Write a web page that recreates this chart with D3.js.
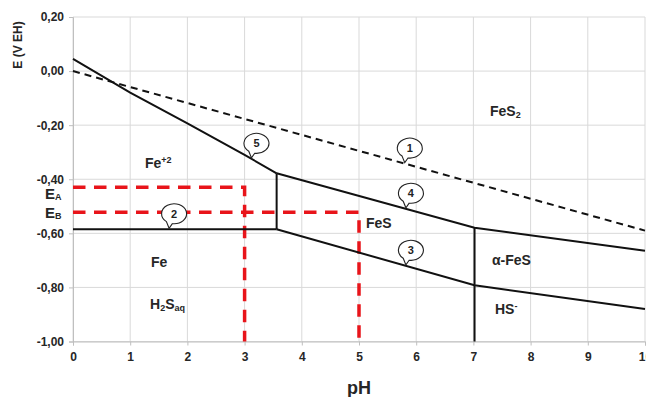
<!DOCTYPE html>
<html>
<head>
<meta charset="utf-8">
<script src="https://cdn.jsdelivr.net/npm/d3@7"></script>
<style>
  html, body { margin: 0; padding: 0; background: #fff; }
  svg { display: block; font-family: "Liberation Sans", Arial, sans-serif; }
</style>
</head>
<body>
<svg id="chart" width="646" height="397"></svg>
<script>
// Eh–pH diagram, Fe–S–H2O system
const phTicks = [0, 1, 2, 3, 4, 5, 6, 7, 8, 9, 10];
const eTicks = [-1.0, -0.8, -0.6, -0.4, -0.2, 0.0, 0.2];

// boundary lines as [pH, E] pairs
const line1 = [[0, 0.0], [10, -0.59]];                          // dashed, FeS2 upper limit
const line2 = [[0, -0.585], [3.56, -0.585]];                    // Fe / Fe+2
const line3 = [[3.56, -0.585], [7.02, -0.792], [10, -0.88]];    // Fe / FeS
const line4 = [[3.56, -0.378], [7.02, -0.579], [10, -0.664]];   // FeS / FeS2
const line5 = [[0, 0.045], [1, -0.08], [2, -0.193], [3, -0.31], [3.56, -0.378]]; // Fe+2 / FeS2
const wallFeS = [[3.56, -0.378], [3.56, -0.585]];
const wallHS = [[7.02, -0.579], [7.02, -1.0]];

// reference potentials
const eA = -0.43, pHA = 3;
const eB = -0.522, pHB = 5;

// numbered callouts: label, boundary, pH where the pointer touches
const calloutLabels = ["1", "2", "3", "4", "5"];
const calloutLines = [line1, line2, line3, line4, line5];
const calloutPH = [5.8, 1.68, 5.82, 5.82, 3.12];

const svg = d3.select("#chart");
const m = {left: 73, right: 645, top: 17, bottom: 341.5};

const x = d3.scaleLinear().domain([0, 10]).range([m.left, m.right]);
const y = d3.scaleLinear().domain([-1, 0.2]).range([m.bottom, m.top]);

const loc = d3.formatLocale({decimal: ",", thousands: ".", grouping: [3], currency: ["", ""], minus: "-"});
const fmt = loc.format(".2f");

// grid
const grid = svg.append("g").attr("stroke", "#d9d9d9").attr("stroke-width", 1);
grid.selectAll("line.v").data(phTicks).join("line").attr("class", "v")
  .attr("x1", d => x(d)).attr("x2", d => x(d))
  .attr("y1", m.top).attr("y2", m.bottom);
grid.selectAll("line.h").data(eTicks).join("line").attr("class", "h")
  .attr("x1", m.left).attr("x2", m.right)
  .attr("y1", d => y(d)).attr("y2", d => y(d));

// axes
const yAxis = svg.append("g").attr("transform", `translate(${m.left},0)`)
  .call(d3.axisLeft(y).tickValues(eTicks).tickFormat(fmt).tickSize(4).tickPadding(5));
const xAxis = svg.append("g").attr("transform", `translate(0,${m.bottom})`)
  .call(d3.axisBottom(x).tickValues(phTicks).tickFormat(d3.format("d")).tickSize(4).tickPadding(7));
[yAxis, xAxis].forEach(a => {
  a.select(".domain").attr("stroke", "#bfbfbf");
  a.selectAll(".tick line").attr("stroke", "#bfbfbf");
  a.selectAll(".tick text").attr("fill", "#262626")
    .style("font-size", "12px").style("font-weight", "bold")
    .style("font-family", "'Liberation Sans', Arial, sans-serif");
});

// axis titles
svg.append("text")
  .attr("transform", `translate(22,45) rotate(-90)`)
  .attr("text-anchor", "middle")
  .attr("fill", "#262626").style("font-size", "12px").style("font-weight", "bold")
  .text("E (V EH)");
svg.append("text")
  .attr("x", (m.left + m.right) / 2).attr("y", 394)
  .attr("text-anchor", "middle")
  .attr("fill", "#262626").style("font-size", "18px").style("font-weight", "bold")
  .text("pH");

const path = d3.line().x(d => x(d[0])).y(d => y(d[1]));

// red reference lines
const redG = svg.append("g").attr("fill", "none").attr("stroke", "#e8141a")
  .attr("stroke-width", 3.5).attr("stroke-dasharray", "12.5,8.5");
redG.append("path").attr("d", path([[0, eA], [pHA, eA], [pHA, -1.0]]));
redG.append("path").attr("d", path([[0, eB], [pHB, eB], [pHB, -1.0]]));

// boundaries
svg.append("path").attr("d", path(line1)).attr("fill", "none")
  .attr("stroke", "#111").attr("stroke-width", 2).attr("stroke-dasharray", "7,5");
[line2, line3, line4, line5, wallFeS, wallHS].forEach(l => {
  svg.append("path").attr("d", path(l)).attr("fill", "none")
    .attr("stroke", "#111").attr("stroke-width", 2);
});

// callout bubbles
function valueAt(line, ph) {
  for (let i = 0; i < line.length - 1; i++) {
    const [x0, y0] = line[i], [x1, y1] = line[i + 1];
    if (ph >= x0 && ph <= x1) return y0 + (ph - x0) / (x1 - x0) * (y1 - y0);
  }
  return line[line.length - 1][1];
}
const rx = 12.5, ry = 10;
calloutLabels.forEach((lab, i) => {
  const ph = calloutPH[i];
  const tx = x(ph), ty = y(valueAt(calloutLines[i], ph)) - 1;
  const cx = tx + 5, cy = ty - 14.5;
  const pt = a => [cx + rx * Math.cos(a * Math.PI / 180), cy + ry * Math.sin(a * Math.PI / 180)];
  const p1 = pt(128), p2 = pt(98);
  svg.append("path")
    .attr("d", `M${p1[0]},${p1[1]} A${rx},${ry} 0 1 1 ${p2[0]},${p2[1]} L${tx},${ty} Z`)
    .attr("fill", "#fff").attr("stroke", "#222").attr("stroke-width", 1.1);
  svg.append("text").attr("x", cx).attr("y", cy + 4)
    .attr("text-anchor", "middle").attr("fill", "#222")
    .style("font-size", "11px").style("font-weight", "bold").text(lab);
});

// region labels
function label(px, py, parts, size) {
  const t = svg.append("text").attr("x", px).attr("y", py)
    .attr("fill", "#262626").style("font-size", size + "px").style("font-weight", "bold");
  parts.forEach(p => {
    const s = t.append("tspan").text(p.t);
    if (p.sub) s.style("font-size", "9px").attr("dy", p.dy);
    if (p.back) s.attr("dy", p.back);
  });
}
label(490, 116, [{t: "FeS"}, {t: "2", sub: true, dy: 2}], 14);
label(145, 168, [{t: "Fe"}, {t: "+2", sub: true, dy: -5}], 14);
label(366, 228, [{t: "FeS"}], 14);
label(151, 267, [{t: "Fe"}], 14);
label(150, 309, [{t: "H"}, {t: "2", sub: true, dy: 2}, {t: "S", back: -2}, {t: "aq", sub: true, dy: 2}], 14);
label(492, 265, [{t: "α-FeS"}], 14);
label(495, 314, [{t: "HS"}, {t: "-", sub: true, dy: -5}], 14);
label(45, 199, [{t: "E"}, {t: "A", sub: true, dy: 1}], 15);
label(45, 218, [{t: "E"}, {t: "B", sub: true, dy: 1}], 15);
</script>
</body>
</html>
